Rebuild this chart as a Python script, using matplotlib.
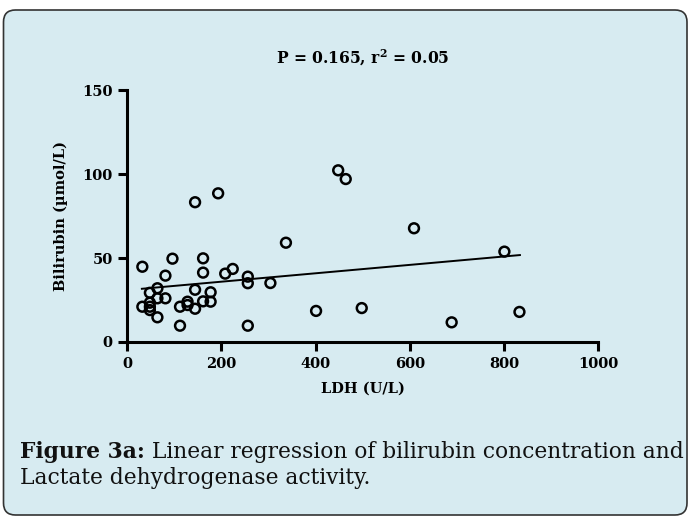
import matplotlib
matplotlib.use("Agg")
import matplotlib.pyplot as plt
from matplotlib.patches import FancyBboxPatch
import numpy as np

plt.rcParams['mathtext.fontset'] = 'dejavuserif'

# values
ldh = [32, 32, 48, 48, 48, 48, 64, 64, 64, 81, 81, 96, 112, 112, 128, 128,
       144, 144, 144, 161, 161, 161, 177, 177, 193, 208, 224, 256, 256, 256,
       304, 337, 401, 448, 464, 498, 609, 689, 801, 833]
bilirubin = [44.8, 21, 29.3, 23.4, 21, 19, 32, 26, 14.7, 39.5, 26, 49.6, 21, 9.7,
             24, 22, 83.2, 31.1, 19.8, 49.8, 41.3, 24.2, 29.6, 24, 88.5, 40.7,
             43.5, 38.9, 35, 9.7, 35.1, 59.1, 18.5, 102.2, 97, 20.2, 67.7, 11.7,
             53.8, 17.9]
fit_slope = 0.025
fit_intercept = 30.9
x_ticks = [0, 200, 400, 600, 800, 1000]
y_ticks = [0, 50, 100, 150]

title = r"P = 0.165, r$^{\mathbf{2}}$ = 0.05"
caption_bold = "Figure 3a:"
caption_line1 = " Linear regression of bilirubin concentration and"
caption_line2 = "Lactate dehydrogenase activity."

BG = "#d7ebf1"
SERIF = "DejaVu Serif"

fig = plt.figure(figsize=(6.88, 5.17), dpi=100)
fig.patch.set_facecolor("white")

box = FancyBboxPatch((0.035, 0.02), 6.835, 5.05,
                     boxstyle="round,pad=0,rounding_size=0.12",
                     transform=fig.dpi_scale_trans, facecolor=BG,
                     edgecolor="#333333", linewidth=1.2, zorder=-10)
fig.patches.append(box)

ax = fig.add_axes([0.185, 0.3385, 0.6843, 0.4874])
ax.set_facecolor("none")
ax.set_zorder(1)

ax.scatter(ldh, bilirubin, s=50, facecolors="none", edgecolors="black",
           linewidths=1.8, zorder=3, clip_on=False)
fx = np.array([min(ldh) - 1, max(ldh) + 1])
ax.plot(fx, fit_intercept + fit_slope * fx, color="black", lw=1.4, zorder=2)

ax.set_xlim(0, 1000)
ax.set_ylim(0, 150)
ax.set_xticks(x_ticks)
ax.set_yticks(y_ticks)
for s in ["top", "right"]:
    ax.spines[s].set_visible(False)
for s in ["left", "bottom"]:
    ax.spines[s].set_linewidth(2.2)
ax.tick_params(direction="out", length=6.5, width=2.2, pad=4)
for lab in ax.get_xticklabels() + ax.get_yticklabels():
    lab.set_fontfamily(SERIF)
    lab.set_fontweight("bold")
    lab.set_fontsize(10.5)

ax.set_xlabel("LDH (U/L)", fontfamily=SERIF, fontweight="bold", fontsize=10.5)
ax.set_ylabel("Bilirubin (µmol/L)", fontfamily=SERIF, fontweight="bold", fontsize=10.5)
ax.xaxis.set_label_coords(0.5, -0.187)
ax.yaxis.set_label_coords(-0.141, 0.5)
ax.xaxis.label.set_va("center")
ax.yaxis.label.set_va("center")

ax.text(0.5, 1.127, title, transform=ax.transAxes, ha="center", va="center",
        fontfamily=SERIF, fontweight="bold", fontsize=11.2)

# caption: bold lead-in followed by regular text
cx, cy1, cy2 = 20 / 688, (517 - 458) / 517, (517 - 484) / 517
cap_size = 15.7
tb = fig.text(cx, cy1, caption_bold, fontfamily=SERIF, fontweight="bold",
              fontsize=cap_size, va="baseline", color="#111111")
fig.canvas.draw()
bb = tb.get_window_extent(renderer=fig.canvas.get_renderer())
fig.text(bb.x1 / fig.bbox.width, cy1, caption_line1, fontfamily=SERIF,
         fontsize=cap_size, va="baseline", color="#111111")
fig.text(cx, cy2, caption_line2, fontfamily=SERIF, fontsize=cap_size,
         va="baseline", color="#111111")

fig.savefig("out.png", dpi=100, facecolor="white")
